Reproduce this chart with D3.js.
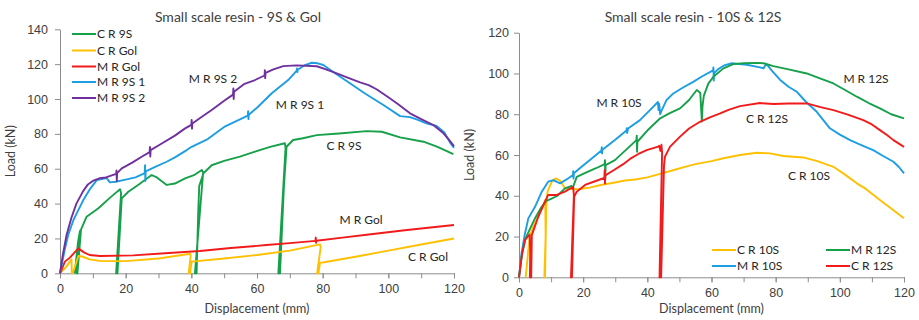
<!DOCTYPE html>
<html>
<head>
<meta charset="utf-8">
<script src="https://cdn.jsdelivr.net/npm/d3@7"></script>
<style>
  body { margin: 0; background: #fff; }
  svg { display: block; font-family: Lato, "Liberation Sans", sans-serif; }
  .axis path, .axis line { stroke: #8c8c8c; }
  .axis text { fill: #404040; font-size: 12.5px; }
  .lbl { fill: #262626; font-size: 12px; }
</style>
</head>
<body>
<svg id="chart" width="919" height="320"></svg>
<script>
// Colours used by both panels
const GREEN = "#16a04a", ORANGE = "#ffc000", RED = "#f21a1a", BLUE = "#1d9ee3", PURPLE = "#7030a0";

// Left panel: Small scale resin - 9S & Gol  ([displacement mm, load kN])
const crNineS = [[4.5,0],[5.5,18],[6.1,24.5],[5.0,0],[5.3,0],[6.4,25],[8.1,32.5],[11.7,37.3],[15,43],[17.5,47],[18.3,48.2],[18.6,46],[17.1,0],[17.5,0],[18.8,43],[20.8,46.8],[24,51],[27.9,56.4],[29.5,55],[32.5,50.7],[35,51.5],[38.1,54.5],[41,56.5],[43.2,59.3],[43.6,58],[41.1,0],[41.6,0],[42.1,35],[42.4,50],[43.7,57.4],[46.2,62],[50,64.5],[54.8,66.9],[59.4,69.8],[64,72.5],[68.5,74.6],[68.7,72],[66.5,0],[67.0,0],[68.2,50],[69,72.6],[71,76.5],[74,77.5],[78.2,79.3],[85,80.2],[93.4,81.6],[98,81.2],[103.6,78],[110.7,75.5],[115,72.5],[119.8,68.4]];
const crGol = [[0,0],[2,4],[3.5,8],[3.6,0],[3.9,0],[5.6,9.9],[7,9.5],[9,8],[12.2,7.1],[20,7],[30,8.5],[39.7,11.2],[39.8,10],[39.2,0],[39.6,0],[40.1,6.7],[50,8.5],[60,10.5],[70,13],[79.2,16.6],[79.4,15],[78.3,0],[78.7,0],[79.2,6.1],[80,6.2],[90,9.5],[100,13],[110,16.5],[120,20]];
const mrGol = [[0,0],[1.5,6.7],[3,9],[5.6,14.3],[7.3,12],[9,10.5],[12.2,9.9],[22.3,10.3],[32,11.5],[42.6,12.8],[52,14.5],[62.9,16.2],[70,17.3],[77.8,18.6],[77.9,20.5],[78,17.5],[78.1,18.7],[86,20.5],[93.4,22.1],[105,24.7],[120,27.7]];
const mrNineS1 = [[0,0],[1.5,14],[2.5,22],[4.1,30.6],[5.5,36],[7.1,42],[9,48],[11.2,53.5],[14.2,54.6],[15.2,52.2],[17,52.5],[19.3,53.5],[23,55],[25.8,57.5],[25.9,62],[26.0,53],[26.1,58.5],[29,61],[32.5,64],[35,66.5],[38.6,70.7],[40.1,72.6],[45,77],[50,84],[57.2,90.5],[57.3,93],[57.4,88.5],[57.5,91],[60,95],[64.5,103.3],[69.5,110.9],[72.1,116.3],[72.2,117.5],[72.3,115.5],[72.4,116.8],[74.6,119.5],[76.7,120.8],[78.5,120.5],[80.2,119.5],[84,114.5],[88.3,109],[93,103],[98.5,96.6],[103.6,90.2],[106.6,89.6],[109,88],[111.6,86],[114.7,84.5],[117,81],[118.8,75],[120,72]];
const mrNineS2 = [[0,0],[0.8,10],[2,22],[3.5,32],[5,40],[7,47],[8.5,51],[10,53],[12,54.5],[14,55],[17.1,57],[17.2,59],[17.3,53],[17.4,57.5],[18.8,60.2],[22,63.5],[25,67],[27.3,69.5],[27.4,72.5],[27.5,67],[27.6,70.7],[31,74.5],[35,79],[38,83],[40,85.2],[40.1,88],[40.2,83],[40.3,86],[43,89.5],[46.2,93.7],[50,99],[52.7,102.5],[52.8,106],[52.9,100],[53,104.2],[56,108.5],[59.4,110.9],[62.3,113.5],[62.4,116.5],[62.5,112],[62.6,115],[65,117],[68,118.9],[72,119.3],[78.2,118.8],[81,117],[84.3,114.7],[88,112],[91.4,109.5],[94,108],[96.4,105.6],[100,101],[103,97],[106.6,91.8],[110,88.5],[113.7,85.1],[116.8,80.3],[118.5,76.5],[120,73]];

// Right panel: Small scale resin - 10S & 12S
const crTenS = [[2.1,0],[3.0,15],[3.5,21],[4.5,25],[6,30],[7.5,35],[8.2,38],[8.3,20],[7.9,0],[8.1,0],[8.5,35],[8.9,42],[10.2,46.9],[11.4,48.5],[12.8,47.4],[13.8,45],[14.3,43.6],[15.5,43.3],[18.5,43.2],[22,44],[25.5,45.3],[29.9,46.5],[33,47.5],[36.2,48],[40,49],[44.5,51],[48,52.5],[51.7,54.2],[55,55.5],[60,57],[63.7,58.4],[68.9,60],[74.1,61.1],[78.2,60.8],[82.4,59.5],[88.6,58.8],[93,57],[98,54.2],[101.5,50.5],[105.3,46.1],[108,43.5],[112.5,37.9],[116,33.8],[120,29]];
const mrTenS = [[0,0],[0.8,11.8],[1.8,21],[2.9,28.9],[5,34.6],[7.1,42],[9.1,46.9],[10.7,47.7],[12.8,46.1],[15.4,48.6],[16.8,50.2],[16.9,52],[17.0,48.5],[17.1,51],[19.5,54.2],[22.1,57.5],[25.7,62.2],[25.8,63.8],[25.9,60.8],[26,62.6],[30,67.5],[33.5,72],[33.6,73.2],[33.7,70.8],[34,73],[37.7,77.1],[40.5,81.5],[43.3,86],[43.5,82],[43.7,85],[44,80],[44.5,82],[46,87],[48.1,90.2],[51,93],[54.3,95.9],[57,98.5],[60.5,101.5],[60.6,103],[60.7,96.5],[60.8,100],[62,102],[64,104],[66.3,105],[71,104.3],[75.1,103],[76.2,102.5],[77,104.5],[77.5,104],[79,101],[81.4,96.8],[84,93.5],[86.6,91],[89.5,86],[92.8,81.2],[96.9,73.1],[100,70],[103.2,67.3],[106.5,65],[110.4,62.4],[113.5,59.5],[116.7,56.7],[118.5,54],[120,51]];
const mrTwelveS = [[0,0],[1,12],[2,19],[3.5,24],[5,29],[7,34.5],[8.5,37.5],[10,38.5],[12,40],[14.3,43.6],[16.4,44.8],[16.6,43.5],[17,45],[18,49.3],[21,51.5],[24,53.5],[26.7,55.5],[26.8,57.5],[26.9,48.5],[27,55],[29.9,57.5],[33,62],[36.6,67.3],[36.7,69.5],[36.8,61.6],[36.9,66.5],[40,72],[44,78],[47,80.5],[50.2,82.9],[53,87],[55.4,91.9],[56.5,90.5],[57,76.4],[57.2,84],[57.6,89],[59,95],[60.6,98.4],[63.7,102.5],[66.8,104.6],[70,105],[74.1,105.2],[76.2,105],[79.3,103.6],[84,102],[89.7,100],[94,97.5],[98,95.1],[101.5,92],[105.3,88.6],[109,85.5],[112.5,82.9],[116,80],[120,78]];
const crTwelveS = [[0,0],[0.9,11],[1.9,18.3],[3.3,21],[3.5,12],[3.4,0],[3.8,0],[4.0,20.7],[6,29.7],[8.1,37.1],[9.1,40.4],[11.8,40.4],[14.3,42],[16.9,44.4],[17.1,40],[16.2,0],[16.5,0],[17.2,39.5],[18,42],[20.6,45.3],[23.5,47],[26.6,48.8],[26.7,52.5],[26.8,46],[26.9,50],[29.5,52.5],[32.5,55.5],[35,58.5],[37.2,60.5],[40,62.5],[43.4,64.1],[43.7,64.5],[44.1,62],[44.4,65],[44.6,61],[43.8,0],[44.3,0],[45.2,55],[45.5,59.2],[47.1,64.1],[50.2,69],[53,73],[56.4,76.3],[59.5,78.5],[62.7,80.4],[65.5,82.3],[68.9,84],[75.1,85.5],[79.3,85],[84,85.3],[89.7,85.3],[94,83.5],[98,82],[102.5,79.8],[107.3,77.1],[110,75],[112.5,72.2],[114.7,69.8],[116.7,67.3],[120,64]];

// Axis ticks
const xTicks = [0, 20, 40, 60, 80, 100, 120];
const xMinorTicks = [0, 10, 20, 30, 40, 50, 60, 70, 80, 90, 100, 110, 120];
const yTicksLeft = [0, 20, 40, 60, 80, 100, 120, 140];
const yTicksRight = [0, 20, 40, 60, 80, 100, 120];

const svg = d3.select("#chart");

function drawPanel(p) {
  const x = d3.scaleLinear().domain([0, 120]).range([p.x0, p.x1]);
  const y = d3.scaleLinear().domain([0, p.yMax]).range([p.y0, p.y1]);
  const g = svg.append("g");

  // minor ticks on x axis
  g.append("g").attr("class", "axis")
    .attr("transform", `translate(0,${p.y0})`)
    .call(d3.axisBottom(x).tickValues(xMinorTicks).tickSize(5).tickFormat(""))
    .call(a => a.select(".domain").remove());

  g.append("g").attr("class", "axis")
    .attr("transform", `translate(0,${p.y0})`)
    .call(d3.axisBottom(x).tickValues(xTicks).tickSize(5).tickSizeOuter(0).tickPadding(6));

  g.append("g").attr("class", "axis")
    .attr("transform", `translate(${p.x0},0)`)
    .call(d3.axisLeft(y).tickValues(p.yTicks).tickSize(5).tickSizeOuter(0).tickPadding(p.yPad));

  const line = d3.line().x(d => x(d[0])).y(d => y(d[1]));
  p.series.forEach(s => {
    g.append("path").datum(s.data)
      .attr("d", line)
      .attr("fill", "none")
      .attr("stroke", s.color)
      .attr("stroke-width", 1.9)
      .attr("stroke-linejoin", "round");
  });

  // titles
  g.append("text").attr("x", p.titleX).attr("y", 22)
    .attr("text-anchor", "middle").attr("fill", "#404040").style("font-size", "14px")
    .text(p.title);
  g.append("text").attr("x", (p.x0 + p.x1) / 2).attr("y", 313)
    .attr("text-anchor", "middle").attr("fill", "#404040").style("font-size", "12.5px")
    .text("Displacement (mm)");
  g.append("text")
    .attr("transform", `translate(${p.yLabelX},${(p.y0 + p.y1) / 2}) rotate(-90)`)
    .attr("text-anchor", "middle").attr("fill", "#404040").style("font-size", "12.5px")
    .text("Load (kN)");

  // in-plot annotations
  p.notes.forEach(n => {
    g.append("text").attr("class", "lbl")
      .attr("x", n.x).attr("y", n.y).attr("text-anchor", "middle").attr("dy", "0.35em")
      .text(n.text);
  });

  // legend
  p.legend.forEach(l => {
    const s = p.series.find(d => d.name === l.name);
    g.append("line").attr("x1", l.x).attr("x2", l.x + 24).attr("y1", l.y).attr("y2", l.y)
      .attr("stroke", s.color).attr("stroke-width", 2);
    g.append("text").attr("class", "lbl").attr("x", l.x + 25).attr("y", l.y).attr("dy", "0.35em")
      .text(s.name);
  });
}

drawPanel({
  title: "Small scale resin - 9S & Gol", titleX: 238,
  x0: 60, x1: 454, y0: 273.3, y1: 29.3, yMax: 140, yTicks: yTicksLeft, yPad: 7, yLabelX: 15,
  series: [
    { name: "C R 9S", color: GREEN, data: crNineS },
    { name: "C R Gol", color: ORANGE, data: crGol },
    { name: "M R Gol", color: RED, data: mrGol },
    { name: "M R 9S 1", color: BLUE, data: mrNineS1 },
    { name: "M R 9S 2", color: PURPLE, data: mrNineS2 }
  ],
  notes: [
    { text: "M R 9S 2", x: 213, y: 79 },
    { text: "M R 9S 1", x: 300, y: 105 },
    { text: "C R 9S", x: 344, y: 146 },
    { text: "M R Gol", x: 361, y: 220 },
    { text: "C R Gol", x: 428, y: 257 }
  ],
  legend: [
    { name: "C R 9S", x: 72, y: 34 },
    { name: "C R Gol", x: 72, y: 50.5 },
    { name: "M R Gol", x: 72, y: 66.5 },
    { name: "M R 9S 1", x: 72, y: 82 },
    { name: "M R 9S 2", x: 72, y: 98 }
  ]
});

drawPanel({
  title: "Small scale resin - 10S & 12S", titleX: 693,
  x0: 519, x1: 904, y0: 277.3, y1: 32.7, yMax: 120, yTicks: yTicksRight, yPad: 5, yLabelX: 474,
  series: [
    { name: "C R 10S", color: ORANGE, data: crTenS },
    { name: "M R 10S", color: BLUE, data: mrTenS },
    { name: "M R 12S", color: GREEN, data: mrTwelveS },
    { name: "C R 12S", color: RED, data: crTwelveS }
  ],
  notes: [
    { text: "M R 10S", x: 619, y: 103 },
    { text: "C R 12S", x: 767, y: 119 },
    { text: "M R 12S", x: 866, y: 79 },
    { text: "C R 10S", x: 809, y: 176 }
  ],
  legend: [
    { name: "C R 10S", x: 712, y: 250 },
    { name: "M R 10S", x: 712, y: 266 },
    { name: "M R 12S", x: 826, y: 250 },
    { name: "C R 12S", x: 826, y: 266 }
  ]
});
</script>
</body>
</html>
